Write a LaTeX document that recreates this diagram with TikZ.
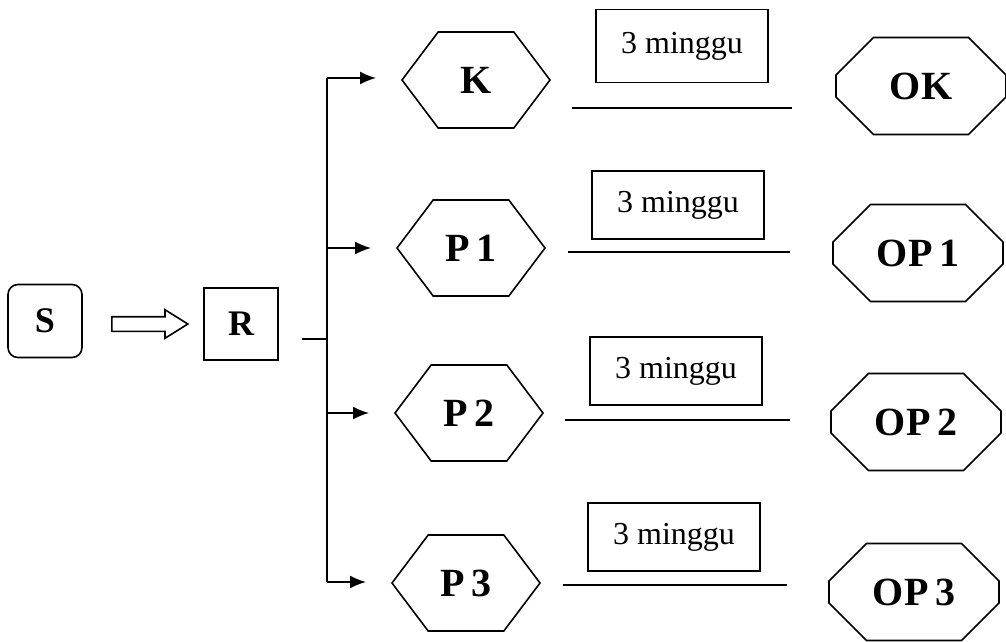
\documentclass[tikz,border=0pt]{standalone}
\usepackage{fontspec}
\setmainfont{Liberation Serif}
\usetikzlibrary{shapes.misc,shapes.symbols,shapes.arrows,arrows.meta}

\begin{document}
\begin{tikzpicture}[x=1pt,y=-1pt,line width=1.6pt,
  every node/.style={line width=1.6pt},
  startbox/.style={draw,rounded corners=10pt,minimum width=74pt,minimum height=73pt,inner sep=0pt,
    font=\fontsize{36}{40}\selectfont\bfseries},
  plainbox/.style={draw,minimum width=74pt,minimum height=72pt,inner sep=0pt,
    font=\fontsize{36}{40}\selectfont\bfseries},
  hexa/.style={draw,signal,signal to=east and west,signal pointer angle=106,
    minimum width=148pt,minimum height=96pt,inner sep=0pt,
    font=\fontsize{40}{44}\selectfont\bfseries},
  octa/.style={draw,chamfered rectangle,chamfered rectangle xsep=25pt,chamfered rectangle ysep=24pt,
    minimum width=170pt,minimum height=97pt,inner sep=0pt,
    font=\fontsize{40}{44}\selectfont\bfseries},
  timebox/.style={draw,minimum width=172pt,minimum height=68pt,inner sep=0pt,
    font=\fontsize{32}{36}\selectfont},
  branch/.style={-{Latex[length=16pt,width=13pt]},shorten >=25pt},
  hollow/.style={draw,single arrow,single arrow head extend=7pt,single arrow head indent=0pt,
    single arrow tip angle=64,minimum width=27pt,minimum height=76pt,inner sep=6.5pt}
]
\useasboundingbox (0,0) rectangle (1006,642);

% start, flow arrow and review box
\node[startbox] (S) at (45,321) {S};
\node[hollow] (flow) at (144,324) {};
\node[plainbox] (R) at (241,324) {R};

% branching bus
\coordinate (feed) at (302,339);
\coordinate (busTop) at (327,78);
\coordinate (busBot) at (327,582);
\draw (feed) -- (feed -| busTop);
\draw (busTop) -- (busBot);

% hexagon stages
\node[hexa] (K)  at (476,80)  {K};
\node[hexa] (P1) at (471,248) {P\,1};
\node[hexa] (P2) at (469,413) {P\,2};
\node[hexa] (P3) at (466,583) {P\,3};

\draw[branch] (busTop) -- (busTop -| K.west);
\draw[branch] (busTop |- P1) -- (P1.west);
\draw[branch] (busTop |- P2) -- (P2.west);
\draw[branch] (busBot) -- (busBot -| P3.west);

% duration labels with their lines
\node[timebox,minimum height=73pt] (T1) at (682,46) {3 minggu};
\node[timebox] (T2) at (678,205) {3 minggu};
\node[timebox] (T3) at (676,371) {3 minggu};
\node[timebox] (T4) at (674,537) {3 minggu};

\coordinate (a1) at (572,108); \coordinate (b1) at (792,108);
\coordinate (a2) at (568,252); \coordinate (b2) at (790,252);
\coordinate (a3) at (565,420); \coordinate (b3) at (790,420);
\coordinate (a4) at (563,585); \coordinate (b4) at (787,585);
\draw (a1) -- (b1);
\draw (a2) -- (b2);
\draw (a3) -- (b3);
\draw (a4) -- (b4);

% outcomes
\node[octa] (OK)  at (921,86)  {OK};
\node[octa] (OP1) at (918,253) {OP\,1};
\node[octa] (OP2) at (916,422) {OP\,2};
\node[octa] (OP3) at (914,592) {OP\,3};
\end{tikzpicture}
\end{document}
